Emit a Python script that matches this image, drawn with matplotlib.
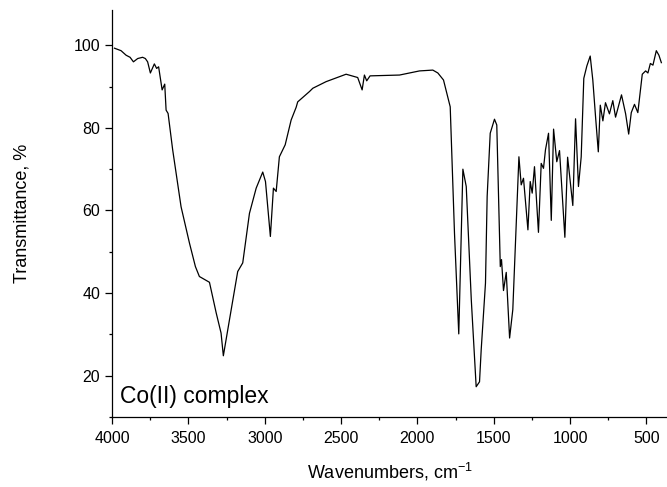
import matplotlib
matplotlib.use('Agg')
import matplotlib.pyplot as plt
from matplotlib.ticker import MultipleLocator

plt.rcParams['font.family'] = ['Liberation Sans', 'DejaVu Sans']

# IR spectrum
wavenumber = [3984, 3941, 3908, 3882, 3860, 3832, 3800, 3782, 3767, 3749,
              3723, 3708, 3695, 3672, 3655, 3646, 3633, 3603, 3548, 3493,
              3454, 3428, 3362, 3318, 3286, 3271, 3231, 3177, 3144, 3100,
              3056, 3013, 2995, 2963, 2943, 2925, 2904, 2866, 2827, 2794,
              2784, 2707, 2685, 2598, 2467, 2391, 2362, 2347, 2332, 2310,
              2117, 1986, 1899, 1866, 1829, 1785, 1757, 1729, 1702, 1680,
              1647, 1615, 1593, 1582, 1554, 1543, 1523, 1495, 1480, 1457,
              1449, 1436, 1418, 1396, 1375, 1335, 1320, 1305, 1276, 1261,
              1248, 1233, 1207, 1189, 1174, 1161, 1141, 1123, 1108, 1087,
              1069, 1034, 1016, 982, 964, 945, 927, 910, 890, 868,
              851, 833, 815, 802, 785, 768, 742, 720, 702, 663,
              636, 616, 599, 578, 556, 527, 505, 490, 474, 457,
              435, 418, 402]
transmittance = [99.3, 98.7, 97.6, 97.1, 96.0, 96.8, 97.1, 96.8, 96.0, 93.3,
                 95.5, 94.4, 94.8, 89.2, 90.6, 84.3, 83.5, 74.7, 60.9, 52.1,
                 46.4, 44.0, 42.6, 35.2, 30.3, 24.8, 33.5, 45.2, 47.3, 59.3,
                 65.4, 69.3, 67.0, 53.7, 65.4, 64.6, 73.0, 75.9, 81.9, 85.0,
                 86.3, 88.8, 89.6, 91.2, 93.0, 92.2, 89.2, 92.8, 91.4, 92.6,
                 92.8, 93.8, 94.0, 93.3, 91.6, 85.1, 54.5, 30.1, 70.0, 65.8,
                 38.4, 17.3, 18.5, 26.3, 42.4, 63.4, 78.7, 82.1, 80.7, 46.4,
                 48.1, 40.6, 45.0, 29.1, 36.0, 73.0, 66.2, 67.8, 55.3, 67.0,
                 64.2, 70.6, 54.7, 71.4, 70.2, 74.7, 78.7, 57.6, 79.7, 71.8,
                 74.5, 53.5, 72.9, 61.2, 82.2, 65.8, 73.0, 92.0, 95.0, 97.4,
                 91.6, 82.7, 74.2, 85.5, 81.7, 86.1, 83.4, 86.6, 82.6, 88.0,
                 83.4, 78.5, 83.7, 85.7, 83.7, 93.0, 93.8, 93.3, 95.6, 95.2,
                 98.7, 97.6, 95.8]

fig = plt.figure(figsize=(6.67, 4.87), dpi=100)
ax = fig.add_axes([0.168, 0.144, 0.832, 0.835])

ax.plot(wavenumber, transmittance, color='black', lw=0.9)

ax.set_xlim(4000, 365)
ax.set_ylim(10, 108.5)
ax.xaxis.set_major_locator(MultipleLocator(500))
ax.xaxis.set_minor_locator(MultipleLocator(250))
ax.yaxis.set_major_locator(MultipleLocator(20))
ax.yaxis.set_minor_locator(MultipleLocator(10))
ax.tick_params(which='major', direction='out', length=5, width=0.9,
               labelsize=11.5, pad=3.5)
ax.tick_params(which='minor', direction='out', length=2.5, width=0.9)
ax.tick_params(axis='x', which='major', pad=5)

for side in ('top', 'right'):
    ax.spines[side].set_visible(False)
for side in ('left', 'bottom'):
    ax.spines[side].set_linewidth(0.9)

ax.set_xlabel('Wavenumbers, cm$^{\\mathregular{-1}}$', fontsize=13, labelpad=11)
ax.set_ylabel('Transmittance, %', fontsize=13, labelpad=31)
ax.text(0.014, 0.022, 'Co(II) complex', transform=ax.transAxes,
        fontsize=16.5, ha='left', va='bottom')

fig.savefig('out.png', dpi=100)
